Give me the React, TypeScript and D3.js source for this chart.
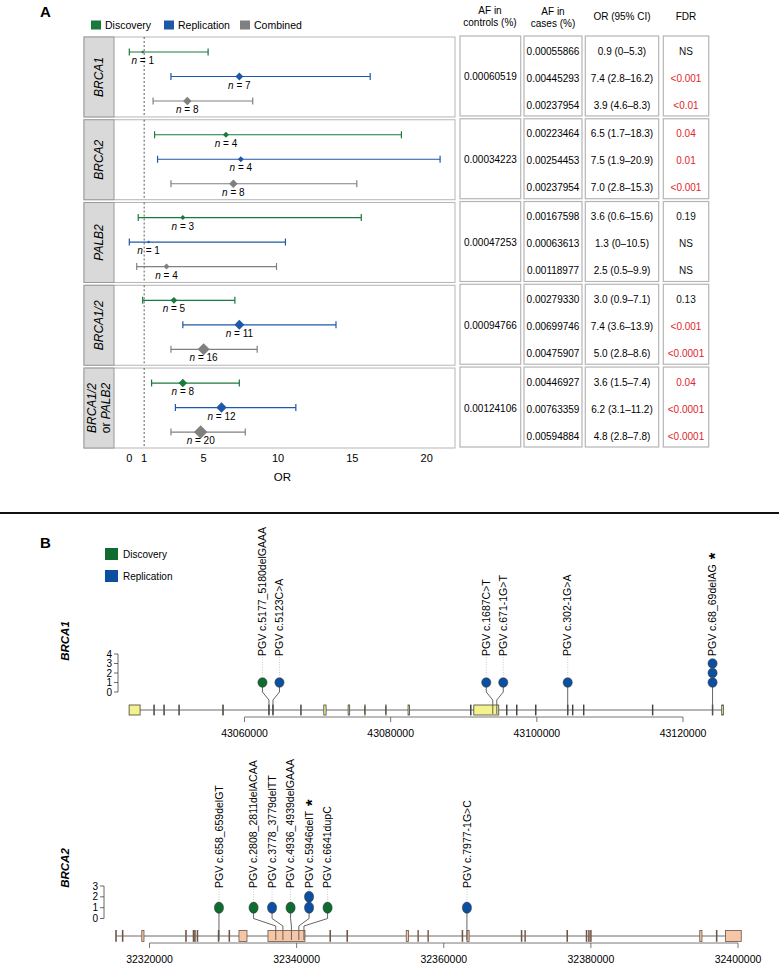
import React from 'react';
import * as d3 from 'd3';

const FONT = "'Liberation Sans', Arial, Helvetica, sans-serif";

// ---- panel A data ----
const genes = ['BRCA1', 'BRCA2', 'PALB2', 'BRCA1/2', 'BRCA1/2 or PALB2'];
const cohorts = ['Discovery', 'Replication', 'Combined'];
const cohortColors = ['#1a7a3c', '#1f58a8', '#808080'];

// rows = genes, columns = discovery / replication / combined
const orValues = [[0.9, 7.4, 3.9], [6.5, 7.5, 7.0], [3.6, 1.3, 2.5], [3.0, 7.4, 5.0], [3.6, 6.2, 4.8]];
const ciLow = [[0, 2.8, 1.6], [1.7, 1.9, 2.8], [0.6, 0, 0.5], [0.9, 3.6, 2.8], [1.5, 3.1, 2.8]];
const ciHigh = [[5.3, 16.2, 8.3], [18.3, 20.9, 15.3], [15.6, 10.5, 9.9], [7.1, 13.9, 8.6], [7.4, 11.2, 7.8]];
const carriers = [[1, 7, 8], [4, 4, 8], [3, 1, 4], [5, 11, 16], [8, 12, 20]];

const afControls = ['0.00060519', '0.00034223', '0.00047253', '0.00094766', '0.00124106'];
const afCases = [
  ['0.00055866', '0.00445293', '0.00237954'],
  ['0.00223464', '0.00254453', '0.00237954'],
  ['0.00167598', '0.00063613', '0.00118977'],
  ['0.00279330', '0.00699746', '0.00475907'],
  ['0.00446927', '0.00763359', '0.00594884'],
];
const orText = [
  ['0.9 (0–5.3)', '7.4 (2.8–16.2)', '3.9 (4.6–8.3)'],
  ['6.5 (1.7–18.3)', '7.5 (1.9–20.9)', '7.0 (2.8–15.3)'],
  ['3.6 (0.6–15.6)', '1.3 (0–10.5)', '2.5 (0.5–9.9)'],
  ['3.0 (0.9–7.1)', '7.4 (3.6–13.9)', '5.0 (2.8–8.6)'],
  ['3.6 (1.5–7.4)', '6.2 (3.1–11.2)', '4.8 (2.8–7.8)'],
];
const fdrText = [
  ['NS', '<0.001', '<0.01'],
  ['0.04', '0.01', '<0.001'],
  ['0.19', 'NS', 'NS'],
  ['0.13', '<0.001', '<0.0001'],
  ['0.04', '<0.0001', '<0.0001'],
];
const fdrSignificant = [
  [false, true, true],
  [true, true, true],
  [false, false, false],
  [false, true, true],
  [true, true, true],
];
const orTicks = [0, 1, 5, 10, 15, 20];

// ---- panel B data ----
const brca1Exons: [number, number][] = [
  [43044211, 43045715], [43047580, 43047680], [43048950, 43049040], [43051000, 43051090],
  [43057010, 43057110], [43063300, 43063390], [43063850, 43063940], [43067680, 43067770],
  [43070850, 43071160], [43074180, 43074390], [43076430, 43076520], [43079300, 43079390],
  [43082380, 43082590], [43090920, 43091010], [43091374, 43094791], [43095840, 43095930],
  [43097210, 43097300], [43099800, 43099900], [43104180, 43104270], [43104860, 43104950],
  [43106370, 43106460], [43115800, 43115890], [43124000, 43124090], [43125300, 43125520],
];
const brca1Variants = [
  { name: 'PGV c.5177_5180delGAAA', pos: 43063345, cohort: 'Discovery', count: 1, star: false },
  { name: 'PGV c.5123C>A', pos: 43063895, cohort: 'Replication', count: 1, star: false },
  { name: 'PGV c.1687C>T', pos: 43093970, cohort: 'Replication', count: 1, star: false },
  { name: 'PGV c.671-1G>T', pos: 43094520, cohort: 'Replication', count: 1, star: false },
  { name: 'PGV c.302-1G>A', pos: 43104224, cohort: 'Replication', count: 1, star: false },
  { name: 'PGV c.68_69delAG', pos: 43124045, cohort: 'Replication', count: 3, star: true },
];
const brca1Ticks = [43060000, 43080000, 43100000, 43120000];

const brca2Exons: [number, number][] = [
  [32315400, 32315500], [32316300, 32316400], [32318950, 32319250], [32324910, 32325010],
  [32325930, 32326030], [32326130, 32326230], [32326470, 32326570], [32329340, 32329440],
  [32330800, 32330900], [32332163, 32333250], [32336104, 32341133], [32344520, 32344620],
  [32346830, 32346930], [32354900, 32355200], [32356480, 32356580], [32357840, 32357940],
  [32362490, 32362590], [32363150, 32363450], [32370530, 32370630], [32371020, 32371120],
  [32376740, 32376840], [32379360, 32379460], [32379680, 32379780], [32379950, 32380050],
  [32394800, 32395100], [32397050, 32397150], [32398306, 32400440],
];
const brca2Variants = [
  { name: 'PGV c.658_659delGT', pos: 32329442, cohort: 'Discovery', count: 1, star: false },
  { name: 'PGV c.2808_2811delACAA', pos: 32337163, cohort: 'Discovery', count: 1, star: false },
  { name: 'PGV c.3778_3779delTT', pos: 32338133, cohort: 'Replication', count: 1, star: false },
  { name: 'PGV c.4936_4939delGAAA', pos: 32339291, cohort: 'Discovery', count: 1, star: false },
  { name: 'PGV c.5946delT', pos: 32340301, cohort: 'Replication', count: 2, star: true },
  { name: 'PGV c.6641dupC', pos: 32340996, cohort: 'Discovery', count: 1, star: false },
  { name: 'PGV c.7977-1G>C', pos: 32363150, cohort: 'Replication', count: 1, star: false },
];
const brca2Ticks = [32320000, 32340000, 32360000, 32380000, 32400000];

const dotColors: Record<string, string> = { Discovery: '#0f6b2f', Replication: '#0d4f9f' };

// spread labels so that neighbours are at least `gap` apart
function spreadLabels(xs: number[], gap: number): number[] {
  let groups = xs.map((x, i) => ({ idx: [i], center: x }));
  let changed = true;
  while (changed) {
    changed = false;
    for (let i = 0; i < groups.length - 1; i++) {
      const a = groups[i], b = groups[i + 1];
      const aRight = a.center + ((a.idx.length - 1) * gap) / 2;
      const bLeft = b.center - ((b.idx.length - 1) * gap) / 2;
      if (bLeft - aRight < gap) {
        const idx = a.idx.concat(b.idx);
        groups.splice(i, 2, { idx, center: d3.mean(idx, j => xs[j]) as number });
        changed = true;
        break;
      }
    }
  }
  const out: number[] = new Array(xs.length);
  groups.forEach(g => g.idx.forEach((j, k) => { out[j] = g.center + (k - (g.idx.length - 1) / 2) * gap; }));
  return out;
}

type TrackProps = {
  gene: string;
  exons: [number, number][];
  variants: typeof brca1Variants;
  ticks: number[];
  xRange: [number, number];
  backboneY: number;
  exonH: number;
  maxCount: number;
  countRange: [number, number];
  axisX: number;
  rulerY: number;
  rx: number;
  ry: number;
  gap: number;
  exonFill: string;
  exonStroke: string;
  labelPos: [number, number];
};

const GeneTrack = (p: TrackProps) => {
  const x = d3.scaleLinear().domain([p.ticks[0], p.ticks[p.ticks.length - 1]]).range(p.xRange);
  const yc = d3.scaleLinear().domain([0, p.maxCount]).range(p.countRange);
  const gx = p.variants.map(v => x(v.pos));
  const lx = spreadLabels(gx, p.gap);
  const labelBottom = yc(p.maxCount) + 2;
  const geneStart = d3.min(p.exons, e => e[0]) as number;
  const geneEnd = d3.max(p.exons, e => e[1]) as number;
  const bend2 = p.backboneY - 10;
  return (
    <g>
      <text x={p.labelPos[0]} y={p.labelPos[1]} transform={`rotate(-90 ${p.labelPos[0]} ${p.labelPos[1]})`}
        textAnchor="middle" dy="0.35em" fontSize={11.5} fontWeight="bold" fontStyle="italic">{p.gene}</text>
      {/* count axis */}
      <line x1={p.axisX} x2={p.axisX} y1={yc(0)} y2={yc(p.maxCount)} stroke="#444" strokeWidth={0.8} />
      {d3.range(p.maxCount + 1).map(c => (
        <g key={c}>
          <line x1={p.axisX - 4} x2={p.axisX} y1={yc(c)} y2={yc(c)} stroke="#444" strokeWidth={0.8} />
          <text x={p.axisX - 6} y={yc(c)} dy="0.35em" textAnchor="end" fontSize={10}>{c}</text>
        </g>
      ))}
      {/* backbone and exons */}
      <line x1={x(geneStart)} x2={x(geneEnd)} y1={p.backboneY} y2={p.backboneY} stroke="#6b6b6b" strokeWidth={1} />
      {p.exons.map((e, i) => (
        <rect key={i} x={x(e[0])} y={p.backboneY - p.exonH / 2} width={Math.max(x(e[1]) - x(e[0]), 0.5)}
          height={p.exonH} fill={p.exonFill} stroke={p.exonStroke} strokeWidth={0.8} />
      ))}
      {/* ruler */}
      <line x1={x(p.ticks[0])} x2={x(p.ticks[p.ticks.length - 1])} y1={p.rulerY} y2={p.rulerY} stroke="#555" strokeWidth={0.8} />
      {p.ticks.map(t => (
        <g key={t}>
          <line x1={x(t)} x2={x(t)} y1={p.rulerY} y2={p.rulerY + 5} stroke="#555" strokeWidth={0.8} />
          <text x={x(t)} y={p.rulerY + 20} textAnchor="middle" fontSize={10.5}>{t}</text>
        </g>
      ))}
      {/* lollipops */}
      {p.variants.map((v, i) => {
        const topY = yc(v.count) - p.ry;
        return (
          <g key={v.name}>
            <path d={`M${lx[i]},${yc(1)}V${yc(0)}L${gx[i]},${bend2}V${p.backboneY + 4}`}
              fill="none" stroke="#555" strokeWidth={0.9} />
            {topY - labelBottom > 3 && (
              <line x1={lx[i]} x2={lx[i]} y1={labelBottom + 1} y2={topY - 1}
                stroke="#bbb" strokeWidth={0.8} strokeDasharray="1,1.5" />
            )}
            {d3.range(1, v.count + 1).map(c => (
              <ellipse key={c} cx={lx[i]} cy={yc(c)} rx={p.rx} ry={p.ry}
                fill={dotColors[v.cohort]} stroke="#333" strokeWidth={0.5} />
            ))}
            <text x={lx[i]} y={labelBottom} transform={`rotate(-90 ${lx[i]} ${labelBottom})`}
              dy="0.35em" fontSize={10.5}>
              {v.name}
              {v.star && <tspan dx={5} dy="0.3em" fontSize={17} fontWeight="bold">*</tspan>}
            </text>
          </g>
        );
      })}
    </g>
  );
};

const App = () => {
  const W = 779, H = 968;
  // panel A scales
  const x = d3.scaleLinear().domain([0, 20]).range([129.3, 426.7]);
  const band = d3.scaleBand().domain(genes).range([37, 448]).paddingInner(0.034);
  const row = d3.scalePoint().domain(cohorts).range([15, 64]);
  const tRow = d3.scalePoint().domain(cohorts).range([14, 68]);
  const size = d3.scaleLinear().domain([0, 20]).range([0, 90]);
  const diamond = d3.symbol().type(d3.symbolSquare);
  const panelL = 84, stripW = 30, panelR = 455;
  const cols = [[460, 520.7], [524, 582], [585.3, 658.7], [663.3, 708.7]];
  const legendA = cohorts.map((c, i) => ({ c, color: cohortColors[i], x: [91, 164, 240][i] }));

  return (
    <svg width={W} height={H} style={{ position: 'absolute', left: 0, top: 0, fontFamily: FONT }}>
      <rect width={W} height={H} fill="#fff" />
      <text x={40} y={17} fontSize={15} fontWeight="bold">A</text>
      {legendA.map(l => (
        <g key={l.c}>
          <rect x={l.x} y={20.5} width={10} height={9} fill={l.color} />
          <text x={l.x + 14} y={29} fontSize={10.5}>{l.c}</text>
        </g>
      ))}

      {/* forest panels */}
      {genes.map((g, gi) => {
        const y0 = band(g) as number;
        const bh = band.bandwidth();
        const cx = panelL + stripW / 2;
        return (
          <g key={g}>
            <rect x={panelL} y={y0} width={panelR - panelL} height={bh} fill="#fff" stroke="#b5b5b5" strokeWidth={1} />
            <rect x={panelL} y={y0} width={stripW} height={bh} fill="#d9d9d9" stroke="#999" strokeWidth={1} />
            {g === 'BRCA1/2 or PALB2' ? (
              <g transform={`translate(${cx},${y0 + bh / 2}) rotate(-90)`} fontSize={12}>
                <text textAnchor="middle" y={-7} dy="0.35em" fontStyle="italic">BRCA1/2</text>
                <text textAnchor="middle" y={7} dy="0.35em">or <tspan fontStyle="italic">PALB2</tspan></text>
              </g>
            ) : (
              <text transform={`translate(${cx},${y0 + bh / 2}) rotate(-90)`} textAnchor="middle" dy="0.35em"
                fontSize={12} fontStyle="italic">{g}</text>
            )}
            <line x1={x(1)} x2={x(1)} y1={y0} y2={y0 + bh} stroke="#333" strokeWidth={0.8} strokeDasharray="2,2" />
            {cohorts.map((c, ci) => {
              const yy = y0 + (row(c) as number);
              const col = cohortColors[ci];
              const x1 = x(ciLow[gi][ci]), x2 = x(ciHigh[gi][ci]), xm = x(orValues[gi][ci]);
              return (
                <g key={c}>
                  <line x1={x1} x2={x2} y1={yy} y2={yy} stroke={col} strokeWidth={1.2} />
                  <line x1={x1} x2={x1} y1={yy - 3.5} y2={yy + 3.5} stroke={col} strokeWidth={1.2} />
                  <line x1={x2} x2={x2} y1={yy - 3.5} y2={yy + 3.5} stroke={col} strokeWidth={1.2} />
                  <path d={diamond.size(size(carriers[gi][ci]))() as string}
                    transform={`translate(${xm},${yy}) rotate(45)`} fill={col} />
                  <text x={xm} y={yy + 12} textAnchor="middle" fontSize={10}>
                    <tspan fontStyle="italic">n</tspan> = {carriers[gi][ci]}
                  </text>
                </g>
              );
            })}
            {/* table */}
            {cols.map((cl, k) => (
              <rect key={k} x={cl[0]} y={y0 - 1} width={cl[1] - cl[0]} height={bh} fill="none" stroke="#b5b5b5" strokeWidth={1.2} />
            ))}
            <text x={(cols[0][0] + cols[0][1]) / 2} y={y0 + bh / 2} dy="0.35em" textAnchor="middle" fontSize={10}>{afControls[gi]}</text>
            {cohorts.map((c, ci) => {
              const yy = y0 + (tRow(c) as number);
              return (
                <g key={c} fontSize={10}>
                  <text x={(cols[1][0] + cols[1][1]) / 2} y={yy} dy="0.35em" textAnchor="middle">{afCases[gi][ci]}</text>
                  <text x={(cols[2][0] + cols[2][1]) / 2} y={yy} dy="0.35em" textAnchor="middle">{orText[gi][ci]}</text>
                  <text x={(cols[3][0] + cols[3][1]) / 2} y={yy} dy="0.35em" textAnchor="middle"
                    fill={fdrSignificant[gi][ci] ? '#e0262a' : '#111'}>{fdrText[gi][ci]}</text>
                </g>
              );
            })}
          </g>
        );
      })}

      {/* table header */}
      <g fontSize={10} textAnchor="middle">
        <text x={490} y={13.5}>AF in</text>
        <text x={490} y={25.5}>controls (%)</text>
        <text x={553} y={15}>AF in</text>
        <text x={553} y={27}>cases (%)</text>
        <text x={622} y={19.5}>OR (95% CI)</text>
        <text x={686} y={19.5}>FDR</text>
      </g>

      {/* OR axis */}
      {orTicks.map(t => (
        <text key={t} x={x(t)} y={462} textAnchor="middle" fontSize={11}>{t}</text>
      ))}
      <text x={x(10.3)} y={481} textAnchor="middle" fontSize={11.5}>OR</text>

      <line x1={0} x2={W} y1={513} y2={513} stroke="#111" strokeWidth={2} />

      {/* panel B */}
      <text x={40} y={548} fontSize={15} fontWeight="bold">B</text>
      <rect x={105} y={548} width={13} height={12} fill={dotColors.Discovery} />
      <text x={123} y={557.5} fontSize={10}>Discovery</text>
      <rect x={105} y={570} width={13} height={12} fill={dotColors.Replication} />
      <text x={123} y={579.5} fontSize={10}>Replication</text>

      <GeneTrack gene="BRCA1" exons={brca1Exons} variants={brca1Variants} ticks={brca1Ticks}
        xRange={[244.5, 683]} backboneY={710} exonH={10} maxCount={4} countRange={[692, 654]}
        axisX={118} rulerY={717} rx={4.6} ry={4.8} gap={17} exonFill="#f4f28c" exonStroke="#444"
        labelPos={[65, 641]} />
      <GeneTrack gene="BRCA2" exons={brca2Exons} variants={brca2Variants} ticks={brca2Ticks}
        xRange={[149.5, 738]} backboneY={936} exonH={11} maxCount={3} countRange={[918.5, 886]}
        axisX={104} rulerY={943} rx={4.6} ry={5.6} gap={18.5} exonFill="#f6c7a7" exonStroke="#6e5448"
        labelPos={[65, 868]} />
    </svg>
  );
};

export default App;
